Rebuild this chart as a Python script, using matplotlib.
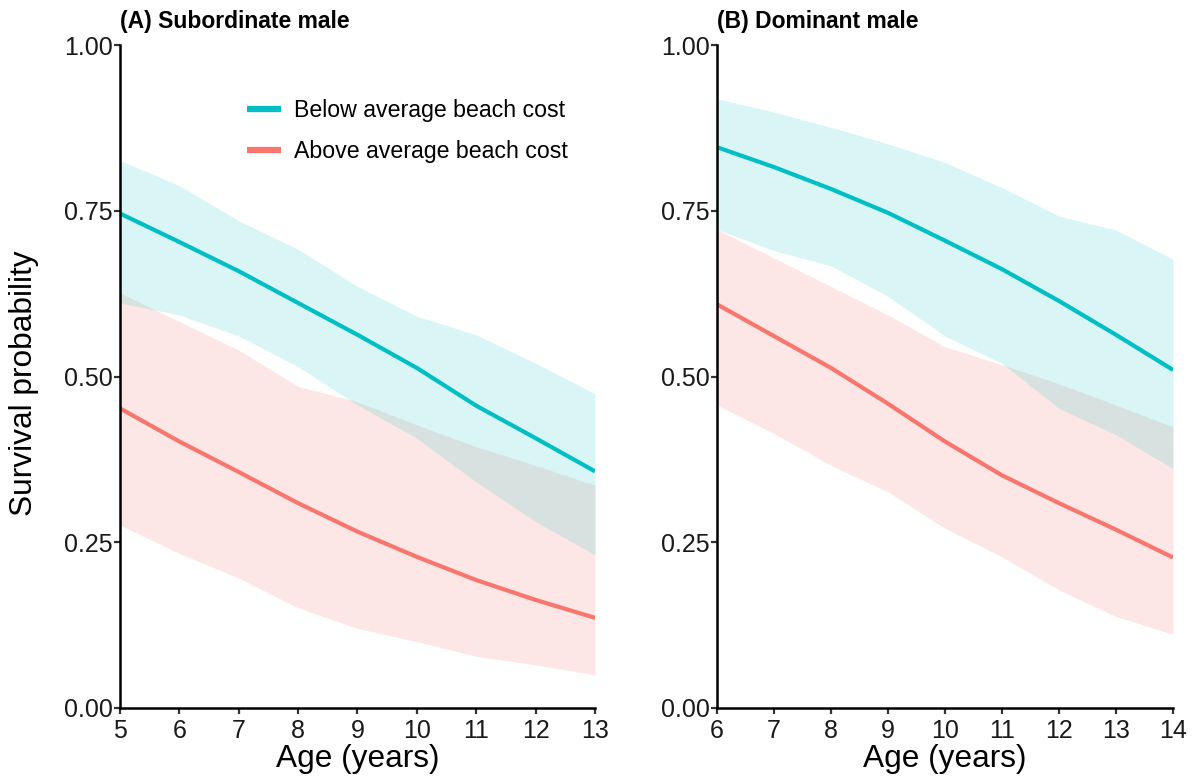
import matplotlib.pyplot as plt
import numpy as np

plt.rcParams['font.family'] = ['Liberation Sans', 'DejaVu Sans']

# Subordinate males, ages 5-13
age_sub = [5, 6, 7, 8, 9, 10, 11, 12, 13]
sub_below_fit = [0.746, 0.703, 0.659, 0.611, 0.563, 0.513, 0.456, 0.407, 0.357]
sub_below_lo = [0.611, 0.593, 0.561, 0.515, 0.457, 0.407, 0.341, 0.281, 0.231]
sub_below_hi = [0.826, 0.788, 0.735, 0.692, 0.636, 0.591, 0.563, 0.520, 0.474]
sub_above_fit = [0.452, 0.402, 0.356, 0.309, 0.266, 0.228, 0.193, 0.163, 0.136]
sub_above_lo = [0.276, 0.233, 0.196, 0.151, 0.120, 0.100, 0.078, 0.065, 0.050]
sub_above_hi = [0.626, 0.583, 0.540, 0.485, 0.462, 0.427, 0.394, 0.366, 0.336]

# Dominant males, ages 6-14
age_dom = [6, 7, 8, 9, 10, 11, 12, 13, 14]
dom_below_fit = [0.846, 0.816, 0.783, 0.747, 0.705, 0.662, 0.614, 0.563, 0.510]
dom_below_lo = [0.722, 0.690, 0.667, 0.621, 0.561, 0.520, 0.452, 0.412, 0.361]
dom_below_hi = [0.919, 0.899, 0.876, 0.851, 0.823, 0.785, 0.742, 0.721, 0.677]
dom_above_fit = [0.609, 0.561, 0.513, 0.459, 0.402, 0.351, 0.309, 0.269, 0.227]
dom_above_lo = [0.457, 0.414, 0.366, 0.326, 0.271, 0.228, 0.178, 0.138, 0.111]
dom_above_hi = [0.722, 0.679, 0.636, 0.593, 0.545, 0.518, 0.489, 0.457, 0.424]

teal = '#00BFC4'
salmon = '#F8766D'
labels = ['Below average beach cost', 'Above average beach cost']
yticks = [0.0, 0.25, 0.5, 0.75, 1.0]

fig = plt.figure(figsize=(11.95, 7.78), dpi=100)
ax1 = fig.add_axes([0.1004, 0.090, 0.3975, 0.852])
ax2 = fig.add_axes([0.600, 0.090, 0.3816, 0.852])

panels = [
    (ax1, age_sub, sub_below_fit, sub_below_lo, sub_below_hi,
     sub_above_fit, sub_above_lo, sub_above_hi, '(A) Subordinate male'),
    (ax2, age_dom, dom_below_fit, dom_below_lo, dom_below_hi,
     dom_above_fit, dom_above_lo, dom_above_hi, '(B) Dominant male'),
]

for ax, age, bf, bl, bh, af, al, ah, title in panels:
    ax.fill_between(age, al, ah, color=salmon, alpha=0.17, linewidth=0)
    ax.fill_between(age, bl, bh, color=teal, alpha=0.15, linewidth=0)
    ax.plot(age, bf, color=teal, lw=3.0, solid_capstyle='butt', label=labels[0])
    ax.plot(age, af, color=salmon, lw=3.0, solid_capstyle='butt', label=labels[1])

    ax.set_xlim(age[0], age[-1])
    ax.set_ylim(0, 1)
    ax.set_xticks(age)
    ax.set_yticks(yticks)
    ax.set_yticklabels([f'{v:.2f}' for v in yticks])

    for side in ['top', 'right']:
        ax.spines[side].set_visible(False)
    for side in ['left', 'bottom']:
        ax.spines[side].set_linewidth(1.8)
        ax.spines[side].set_color('black')
    ax.tick_params(axis='both', length=4, width=1.6, color='#333333',
                   labelsize=18, labelcolor='#1a1a1a')
    ax.tick_params(axis='x', pad=4)
    ax.tick_params(axis='y', pad=1)

    ax.set_xlabel('Age (years)', fontsize=22.8)
    ax.xaxis.set_label_coords(0.5, -0.055)
    ax.xaxis.label.set_va('top')
    ax.set_title(title, loc='left', fontsize=16.5, fontweight='bold', pad=12)

ax1.set_ylabel('Survival probability', fontsize=22.8)
ax1.yaxis.set_label_coords(-0.17, 0.49)

leg = ax1.legend(loc='upper left', bbox_to_anchor=(0.268, 0.918), frameon=False,
                 fontsize=16.7, handlelength=1.45, handletextpad=0.55,
                 labelspacing=0.75, borderpad=0, borderaxespad=0)
for h in leg.legend_handles:
    h.set_linewidth(4.5)

fig.savefig('out.png', dpi=100)
